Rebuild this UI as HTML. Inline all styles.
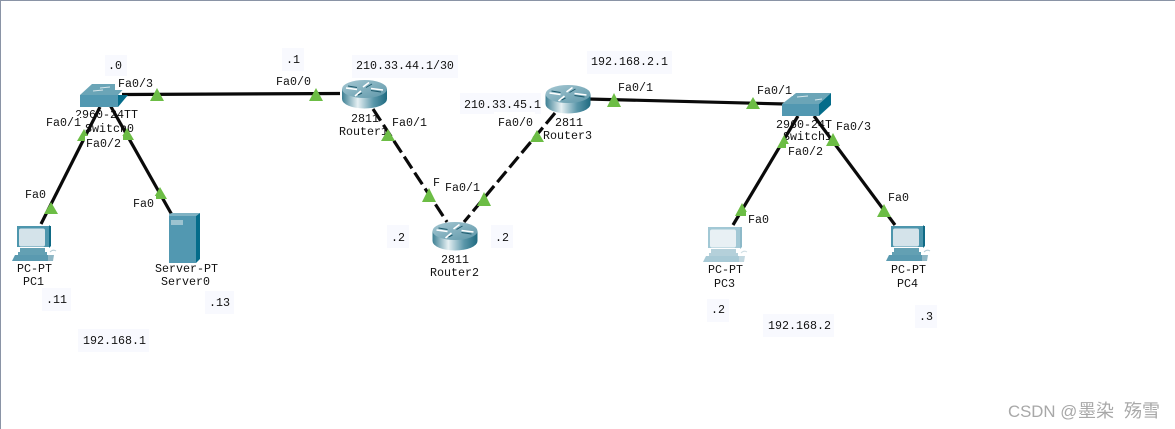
<!DOCTYPE html>
<html>
<head>
<meta charset="utf-8">
<style>
html,body{margin:0;padding:0;background:#fff;width:1175px;height:429px;overflow:hidden}
svg{display:block}
text{font-family:"Liberation Mono","WenQuanYi Zen Hei",monospace;font-size:11.67px;fill:#111}
.w{font-family:"Liberation Sans","Noto Sans CJK SC",sans-serif;font-size:16.8px;fill:#a8a8a8}
.wc{font-size:18px}
.b{fill:#f8f9fe}
.k{fill:#fff}
.s{stroke:#0a0a0a;stroke-width:3.2;fill:none}
.d{stroke:#0a0a0a;stroke-width:3.2;fill:none;stroke-dasharray:14 5}
.t{fill:#6cbd45}
</style>
</head>
<body>
<svg width="1175" height="429" viewBox="0 0 1175 429" xmlns="http://www.w3.org/2000/svg">
<defs>
<linearGradient id="rg" x1="0" x2="1" y1="0" y2="0">
<stop offset="0" stop-color="#3c7f93"/><stop offset=".35" stop-color="#e6f0f3"/><stop offset=".7" stop-color="#5b97aa"/><stop offset="1" stop-color="#1f6a80"/>
</linearGradient>
<linearGradient id="rt" x1="0" x2="1" y1="0" y2="1">
<stop offset="0" stop-color="#a6c8d3"/><stop offset="1" stop-color="#5e97a9"/>
</linearGradient>
<g id="router">
<path d="M0 9V19A22.5 9.5 0 0 0 45 19V9Z" fill="url(#rg)"/>
<ellipse cx="22.5" cy="9" rx="22.5" ry="9" fill="url(#rt)"/>
<path d="M4 8L15 9.5M41 10L29 8.5M27 2.5L21 7M19 11L13 16" stroke="#fff" stroke-width="1.6" fill="none"/>
<path d="M6 6L15 7.5M39 12L29 10.5M30 4L24 7.5M20 13L16 15" stroke="#1d5a6d" stroke-width="1" fill="none"/>
</g>
<g id="pc">
<path d="M5 1H37V22H5Z" fill="#4d96ad"/>
<path d="M37 1L38 0H37ZM37 1H39V21L37 23Z" fill="#0f6a85"/>
<rect x="7" y="3.5" width="26" height="18" rx="2" fill="#d4e3ea"/>
<path d="M8 23H33V27H8ZM6 27H35V30H6Z" fill="#63a0b3"/>
<path d="M3 30H37L38 36H0Z" fill="#5a9ab0"/>
<path d="M36 30H42L41 36H36Z" fill="#8fb7c5"/>
<path d="M38 27Q41 24 44 26" stroke="#b7cdd6" stroke-width="1" fill="none"/>
</g>
<g id="pcf">
<path d="M5 1H37V22H5Z" fill="#a2c8d5"/>
<path d="M37 1H39V21L37 23Z" fill="#8db9c8"/>
<rect x="7" y="3.5" width="26" height="18" rx="2" fill="#e8f0f4"/>
<path d="M8 23H33V27H8ZM6 27H35V30H6Z" fill="#b4d0da"/>
<path d="M3 30H37L38 36H0Z" fill="#a8cad6"/>
<path d="M36 30H42L41 36H36Z" fill="#c3d8e0"/>
<path d="M38 27Q41 24 44 26" stroke="#cfdee4" stroke-width="1" fill="none"/>
</g>
</defs>

<rect x="0" y="0" width="1175" height="1" fill="#8a94a6"/>
<rect x="0" y="0" width="1" height="429" fill="#8a94a6"/>

<!-- device labels -->
<text x="75" y="118">2960-24TT</text>
<text x="85" y="132">Switch0</text>
<text x="351" y="122">2811</text>
<text x="339" y="135">Router1</text>
<text x="441" y="263">2811</text>
<text x="430" y="276">Router2</text>
<text x="555" y="126">2811</text>
<text x="543" y="139">Router3</text>
<text x="776" y="128">2960-24T</text>
<text x="783" y="140">Switch1</text>
<text x="17" y="272">PC-PT</text>
<text x="23" y="285">PC1</text>
<text x="155" y="272">Server-PT</text>
<text x="161" y="285">Server0</text>
<text x="708" y="273">PC-PT</text>
<text x="714" y="287">PC3</text>
<text x="891" y="273">PC-PT</text>
<text x="897" y="287">PC4</text>

<!-- links -->
<path class="s" d="M122 94.500L340 93.500"/>
<path class="s" d="M100 107L41 224"/>
<path class="s" d="M110 105L172 215"/>
<path class="d" d="M373 109L447 222"/>
<path class="d" d="M555 113L464 222"/>
<path class="s" d="M588 99L785 104"/>
<path class="s" d="M798 116L733 225"/>
<path class="s" d="M814 116L895 225"/>

<!-- switch 0 -->
<path d="M80 95L92 84H128L118 95Z" fill="#6ba5b7"/>
<path d="M93 91L103 90M100 88L110 87" stroke="#d7e7ec" stroke-width="1"/>
<rect x="80" y="95" width="38" height="12" fill="#5298b1"/>
<path d="M118 95L128 95L118 107Z" fill="#046c8a"/>

<!-- switch 1 -->
<path d="M782 104L796 93H831L819 104Z" fill="#6ba5b7"/>
<path d="M797 97L808 96M815 100L822 99" stroke="#d7e7ec" stroke-width="1"/>
<rect x="782" y="104" width="37" height="12" fill="#5298b1"/>
<path d="M819 104L831 93V105L819 116Z" fill="#046c8a"/>

<!-- routers -->
<use href="#router" x="342" y="80"/>
<use href="#router" x="432.500" y="222"/>
<use href="#router" x="545.500" y="85"/>

<!-- end devices -->
<use href="#pc" x="12" y="225"/>
<use href="#pcf" x="703" y="226"/>
<use href="#pc" x="886" y="225"/>

<!-- server -->
<rect x="169" y="214" width="27" height="49" fill="#5298b1"/>
<path d="M169 214L172 213H200L196 216H169Z" fill="#7fb2c3"/>
<path d="M196 216L200 213V259L196 263Z" fill="#046c8a"/>
<rect x="171" y="220" width="12" height="5" fill="#9cc3d0"/>

<!-- link triangles -->
<path class="t" d="M157 88L164 101H150Z"/>
<path class="t" d="M316 88L323 101H309Z"/>
<path class="t" d="M84 129L91 141H77Z"/>
<path class="t" d="M127 128L134 140H120Z"/>
<path class="t" d="M51 202L58 214H44Z"/>
<path class="t" d="M160 187L167 199H153Z"/>
<path class="t" d="M388 129L395 141H381Z"/>
<path class="t" d="M429 188L436 202H422Z"/>
<path class="t" d="M484 192L491 206H477Z"/>
<path class="t" d="M537 130L544 142H530Z"/>
<path class="t" d="M614 93L621 107H607Z"/>
<path class="t" d="M753 97L760 109H746Z"/>
<path class="t" d="M784 135L791 148H777Z"/>
<path class="t" d="M833 133L840 146H826Z"/>
<path class="t" d="M884 204L891 217H877Z"/>
<path class="t" d="M742 203L749 216H735Z"/>

<!-- port labels -->
<rect class="k" x="115" y="76" width="39" height="14"/><text x="118" y="87">Fa0/3</text>
<rect class="k" x="44" y="116" width="36" height="15"/><text x="46" y="126">Fa0/1</text>
<rect class="k" x="85" y="136" width="38" height="15"/><text x="86" y="147">Fa0/2</text>
<rect class="k" x="23" y="187" width="24" height="14"/><text x="25" y="198">Fa0</text>
<rect class="k" x="131" y="196" width="25" height="14"/><text x="133" y="207">Fa0</text>
<rect class="k" x="273" y="75" width="39" height="13"/><text x="276" y="85">Fa0/0</text>
<rect class="k" x="390" y="114" width="38" height="14"/><text x="392" y="126">Fa0/1</text>
<rect class="k" x="431" y="175" width="11" height="13"/><text x="433" y="186">F</text>
<rect class="k" x="443" y="180" width="38" height="13"/><text x="445" y="191">Fa0/1</text>
<rect class="k" x="616" y="80" width="38" height="13"/><text x="618" y="91">Fa0/1</text>
<rect class="k" x="755" y="83" width="38" height="13"/><text x="757" y="94">Fa0/1</text>
<rect class="k" x="786" y="144" width="38" height="14"/><text x="788" y="155">Fa0/2</text>
<rect class="k" x="834" y="119" width="38" height="14"/><text x="836" y="130">Fa0/3</text>
<rect class="k" x="886" y="190" width="24" height="14"/><text x="888" y="201">Fa0</text>
<rect class="k" x="746" y="212" width="24" height="14"/><text x="748" y="223">Fa0</text>

<!-- annotation boxes -->
<rect class="b" x="105" y="55" width="22" height="21"/><text x="108" y="69">.0</text>
<rect class="b" x="282" y="48" width="22" height="23"/><text x="286" y="63">.1</text>
<rect class="b" x="352" y="55" width="106" height="23"/><text x="356" y="69">210.33.44.1/30</text>
<rect class="b" x="460" y="93" width="81" height="21"/><text x="464" y="108">210.33.45.1</text>
<rect class="k" x="494" y="112" width="41" height="16"/><text x="498" y="126">Fa0/0</text>
<rect class="b" x="587" y="51" width="85" height="23"/><text x="591" y="65">192.168.2.1</text>
<rect class="b" x="387" y="225" width="22" height="23"/><text x="391" y="241">.2</text>
<rect class="b" x="491" y="225" width="22" height="23"/><text x="495" y="241">.2</text>
<rect class="b" x="42" y="288" width="29" height="23"/><text x="46" y="303">.11</text>
<rect class="b" x="205" y="291" width="29" height="23"/><text x="209" y="306">.13</text>
<rect class="b" x="78" y="329" width="71" height="23"/><text x="83" y="344">192.168.1</text>
<rect class="b" x="707" y="299" width="22" height="23"/><text x="711" y="313">.2</text>
<rect class="b" x="763" y="314" width="71" height="23"/><text x="768" y="329">192.168.2</text>
<rect class="b" x="915" y="305" width="22" height="23"/><text x="919" y="320">.3</text>

<text class="w" x="1008" y="417">CSDN @<tspan class="wc" x="1078">墨染</tspan><tspan class="wc" x="1124">殇雪</tspan></text>
</svg>
</body>
</html>
